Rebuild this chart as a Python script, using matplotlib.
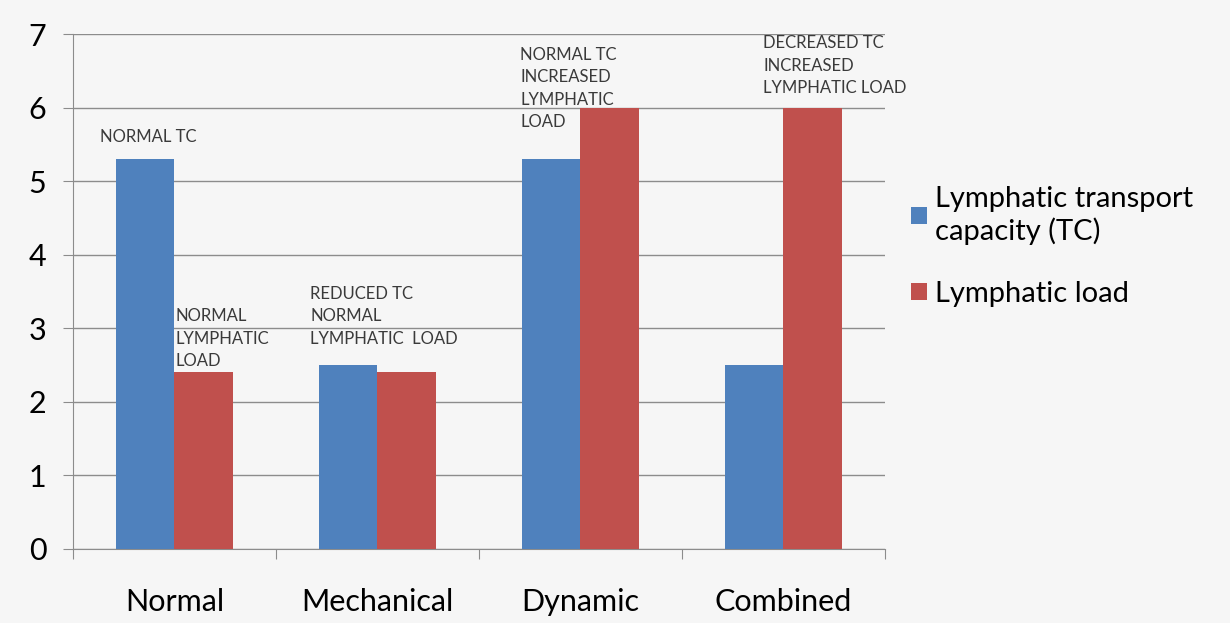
import matplotlib.pyplot as plt
import numpy as np

categories = ["Normal", "Mechanical", "Dynamic", "Combined"]
transport_capacity = [5.3, 2.5, 5.3, 2.5]
lymphatic_load = [2.4, 2.4, 6.0, 6.0]
series_names = ["Lymphatic transport\ncapacity (TC)", "Lymphatic load"]
notes = ["NORMAL TC", "NORMAL\nLYMPHATIC\nLOAD", "REDUCED TC\nNORMAL\nLYMPHATIC  LOAD",
         "NORMAL TC\nINCREASED\nLYMPHATIC\nLOAD", "DECREASED TC\nINCREASED\nLYMPHATIC LOAD"]
# where each note sits: (category index, offset, top y)
note_pos = [(0, -0.365, 5.71), (0, 0.005, 3.27), (1, -0.33, 3.58), (2, -0.296, 6.83), (3, -0.10, 6.98)]

plt.rcParams['font.family'] = ['Lato', 'DejaVu Sans']
bg = "#f6f6f6"
blue, red = "#4f81bd", "#c0504d"

fig = plt.figure(figsize=(12.3, 6.23), dpi=100, facecolor=bg)
ax = fig.add_axes([0.0593, 0.1188, 0.6602, 0.8266], facecolor=bg)

x = np.arange(len(categories))
w = 0.286
ax.bar(x - w/2, transport_capacity, w, color=blue, label=series_names[0], zorder=3)
ax.bar(x + w/2, lymphatic_load, w, color=red, label=series_names[1], zorder=3)

for txt, (i, dx, y) in zip(notes, note_pos):
    ax.text(i + dx, y, txt, ha="left", va="top", fontsize=12, color="#3a3a3a",
            linespacing=1.5, zorder=4)

ax.set_xlim(-0.5, 3.5)
ax.set_ylim(0, 7)
ax.set_yticks(range(8))
ax.yaxis.grid(True, color="#8c8c8c", linewidth=1)
ax.set_axisbelow(True)
ax.set_xticks(np.arange(-0.5, 4, 1))
ax.set_xticks(x, minor=True)
ax.set_xticklabels([])
ax.set_xticklabels(categories, minor=True)
ax.tick_params(axis="x", which="major", length=7, color="#8c8c8c")
ax.tick_params(axis="x", which="minor", length=0, pad=28, labelsize=22)
ax.tick_params(axis="y", length=7, color="#8c8c8c", labelsize=22, pad=12)
for s in ["top", "right"]:
    ax.spines[s].set_visible(False)
for s in ["left", "bottom"]:
    ax.spines[s].set_color("#8c8c8c")

ax.legend(loc="upper left", bbox_to_anchor=(1.0, 0.755), frameon=False, fontsize=21,
          handlelength=0.55, handleheight=0.55, handletextpad=0.25, labelspacing=1.25)

fig.savefig("out.png", dpi=100, facecolor=bg)
